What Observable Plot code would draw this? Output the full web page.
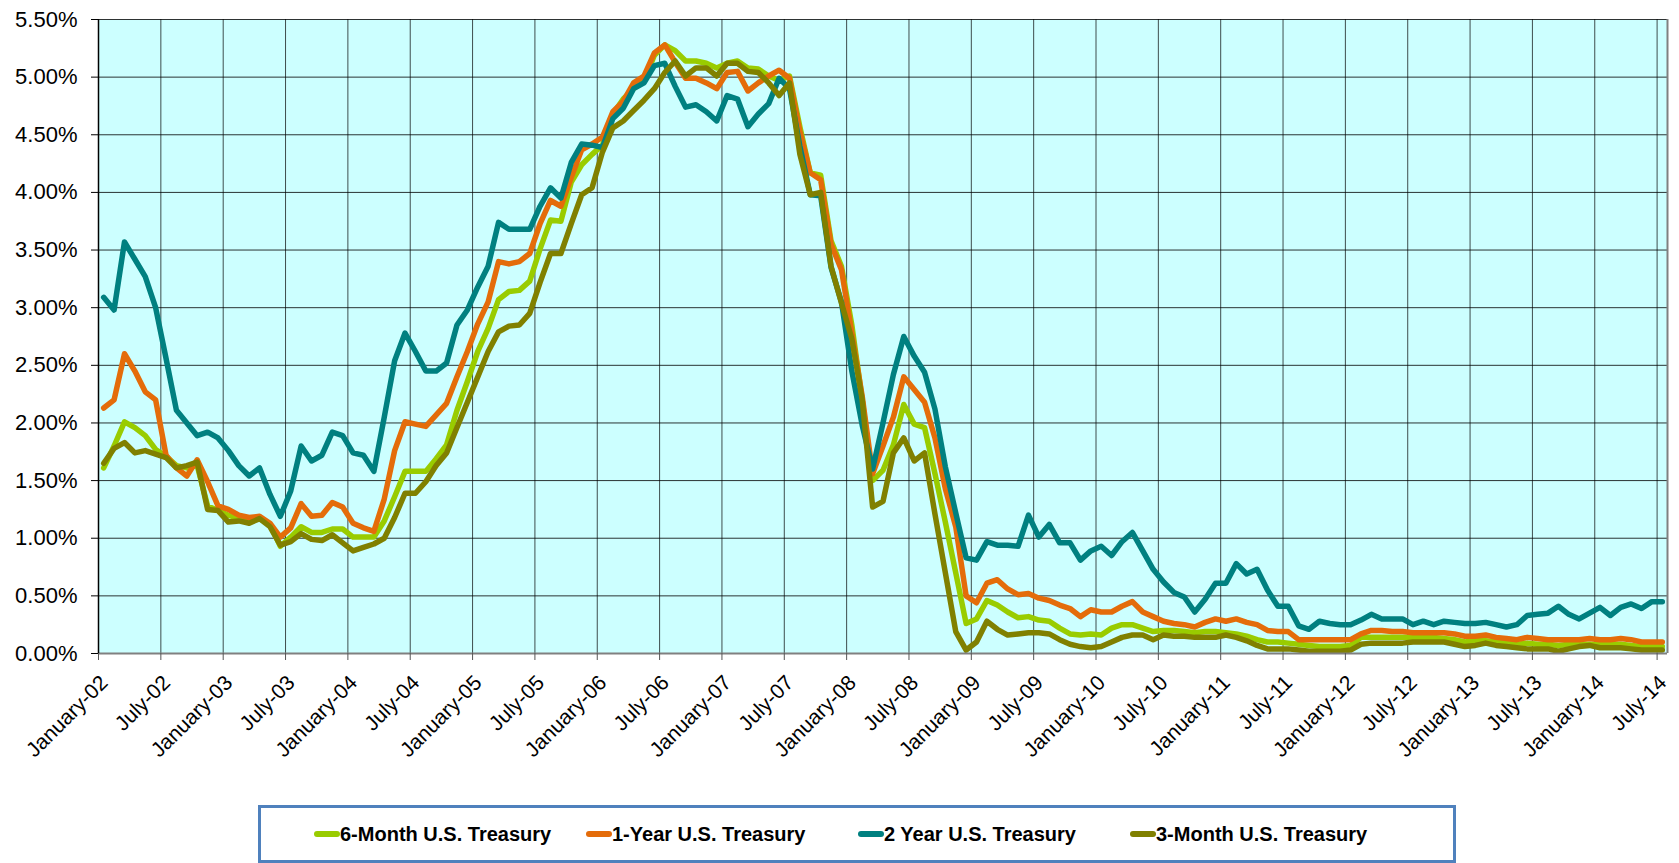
<!DOCTYPE html>
<html><head><meta charset="utf-8">
<script src="https://cdn.jsdelivr.net/npm/d3@7"></script>
<script src="https://cdn.jsdelivr.net/npm/@observablehq/plot@0.6"></script>
<style>
body{margin:0;background:#fff;font-family:"Liberation Sans",Arial,sans-serif;}
#wrap{position:relative;width:1679px;height:863px;overflow:hidden;}
#legend{position:absolute;left:258px;top:805px;width:1198px;height:58px;box-sizing:border-box;border:3px solid #4F81BD;display:flex;align-items:center;padding-left:53px;}
.item{width:272px;display:flex;align-items:center;font-weight:bold;font-size:20px;color:#000;white-space:nowrap;}
.sw{display:inline-block;width:26px;height:6px;border-radius:3px;}
</style></head><body><div id="wrap"><div id="chart"></div><div id="legend"></div></div>
<script>
// Monthly data, January 2002 .. July 2014 (151 months), in percent
const seriesNames = ["6-Month U.S. Treasury", "1-Year U.S. Treasury", "2 Year U.S. Treasury", "3-Month U.S. Treasury"];
const seriesColors = ["#99CC00", "#E46C0A", "#008080", "#808000"];

const sixMonth = [
1.61,1.80,2.01,1.96,1.89,1.77,1.71,1.63,1.61,1.63,1.28,1.24,
1.20,1.17,1.16,1.17,1.12,0.93,1.01,1.10,1.05,1.05,1.08,1.08,
1.01,1.01,1.01,1.15,1.36,1.58,1.58,1.58,1.69,1.81,2.11,2.36,
2.62,2.82,3.07,3.14,3.15,3.23,3.51,3.76,3.75,4.09,4.24,4.33,
4.41,4.68,4.81,4.90,4.97,5.19,5.28,5.23,5.14,5.14,5.12,5.08,
5.12,5.14,5.08,5.07,5.01,4.97,5.01,4.57,4.17,4.15,3.58,3.36,
2.85,2.20,1.50,1.59,1.81,2.16,1.99,1.96,1.56,1.14,0.70,0.26,
0.30,0.46,0.42,0.36,0.31,0.32,0.29,0.28,0.22,0.17,0.16,0.17,
0.16,0.22,0.25,0.25,0.22,0.19,0.20,0.20,0.19,0.18,0.19,0.19,
0.18,0.17,0.15,0.12,0.10,0.10,0.09,0.08,0.07,0.06,0.06,0.06,
0.07,0.14,0.14,0.14,0.14,0.14,0.14,0.14,0.14,0.13,0.12,0.10,
0.11,0.11,0.10,0.09,0.08,0.09,0.08,0.08,0.07,0.08,0.08,0.08,
0.08,0.08,0.08,0.07,0.06,0.06,0.06];

const oneYear = [
2.13,2.20,2.60,2.45,2.27,2.20,1.72,1.61,1.54,1.68,1.49,1.28,
1.25,1.20,1.18,1.19,1.13,1.01,1.09,1.30,1.19,1.20,1.31,1.27,
1.13,1.09,1.06,1.34,1.76,2.01,1.99,1.97,2.07,2.17,2.40,2.62,
2.86,3.05,3.40,3.38,3.40,3.47,3.73,3.93,3.88,4.13,4.37,4.42,
4.48,4.70,4.79,4.95,5.01,5.21,5.28,5.13,4.99,4.99,4.95,4.90,
5.04,5.05,4.88,4.95,5.01,5.06,4.99,4.53,4.17,4.11,3.55,3.33,
2.78,2.23,1.56,1.80,2.05,2.40,2.29,2.18,1.87,1.43,1.10,0.50,
0.44,0.61,0.64,0.56,0.51,0.52,0.48,0.46,0.42,0.39,0.32,0.38,
0.36,0.36,0.41,0.45,0.36,0.32,0.28,0.26,0.25,0.23,0.27,0.30,
0.28,0.30,0.27,0.25,0.20,0.19,0.19,0.12,0.12,0.12,0.12,0.12,
0.12,0.17,0.20,0.20,0.19,0.19,0.18,0.18,0.18,0.18,0.17,0.15,
0.15,0.16,0.14,0.13,0.12,0.14,0.13,0.12,0.12,0.12,0.12,0.13,
0.12,0.12,0.13,0.12,0.10,0.10,0.10];

const twoYear = [
3.09,2.98,3.57,3.42,3.27,3.00,2.56,2.11,2.00,1.89,1.92,1.87,
1.76,1.63,1.54,1.61,1.38,1.19,1.41,1.80,1.67,1.72,1.92,1.89,
1.74,1.72,1.58,2.05,2.54,2.78,2.62,2.45,2.45,2.52,2.85,2.98,
3.18,3.36,3.74,3.68,3.68,3.68,3.88,4.04,3.95,4.26,4.42,4.41,
4.39,4.64,4.73,4.90,4.95,5.10,5.12,4.92,4.74,4.76,4.70,4.62,
4.84,4.81,4.57,4.68,4.77,4.99,4.90,4.40,3.98,3.97,3.35,3.05,
2.45,1.98,1.60,2.00,2.42,2.75,2.58,2.44,2.12,1.62,1.22,0.83,
0.81,0.97,0.94,0.94,0.93,1.20,1.01,1.12,0.96,0.96,0.81,0.89,
0.93,0.85,0.97,1.05,0.89,0.73,0.62,0.53,0.49,0.36,0.47,0.61,
0.61,0.78,0.69,0.73,0.55,0.41,0.41,0.24,0.21,0.28,0.26,0.25,
0.25,0.29,0.34,0.30,0.30,0.30,0.25,0.28,0.25,0.28,0.27,0.26,
0.26,0.27,0.25,0.23,0.25,0.33,0.34,0.35,0.41,0.34,0.30,0.35,
0.40,0.33,0.40,0.43,0.39,0.45,0.45];

const threeMonth = [
1.65,1.78,1.83,1.74,1.76,1.73,1.70,1.61,1.63,1.66,1.25,1.24,
1.14,1.15,1.13,1.17,1.10,0.94,0.97,1.04,0.99,0.98,1.03,0.96,
0.89,0.92,0.95,1.00,1.18,1.39,1.39,1.49,1.63,1.74,1.96,2.18,
2.40,2.62,2.79,2.84,2.85,2.95,3.22,3.47,3.47,3.73,3.98,4.04,
4.35,4.56,4.62,4.71,4.80,4.90,5.04,5.14,5.01,5.08,5.08,5.01,
5.12,5.12,5.05,5.04,4.95,4.84,4.95,4.33,3.98,4.00,3.36,3.04,
2.73,2.20,1.27,1.32,1.74,1.87,1.67,1.74,1.21,0.70,0.19,0.03,
0.10,0.28,0.21,0.16,0.17,0.18,0.18,0.17,0.12,0.08,0.06,0.05,
0.06,0.10,0.14,0.16,0.16,0.12,0.16,0.15,0.15,0.14,0.14,0.14,
0.16,0.14,0.11,0.07,0.04,0.04,0.04,0.03,0.02,0.02,0.02,0.02,
0.03,0.08,0.09,0.09,0.09,0.09,0.10,0.10,0.10,0.10,0.08,0.06,
0.07,0.09,0.07,0.06,0.05,0.04,0.04,0.04,0.02,0.04,0.06,0.07,
0.05,0.05,0.05,0.04,0.03,0.03,0.03];

const xTickLabels = ["January-02","July-02","January-03","July-03","January-04","July-04",
"January-05","July-05","January-06","July-06","January-07","July-07","January-08","July-08",
"January-09","July-09","January-10","July-10","January-11","July-11","January-12","July-12",
"January-13","July-13","January-14","July-14"];
const yTicks = [0,0.5,1,1.5,2,2.5,3,3.5,4,4.5,5,5.5];

// month index positions (tick at start of month, data point mid-month)
const xTicks = xTickLabels.map((_, k) => k * 6);
const allSeries = [sixMonth, oneYear, twoYear, threeMonth];
const rows = allSeries.map((vals, s) => vals.map((v, i) => ({x: i + 0.5, y: v, name: seriesNames[s]})));

const chart = Plot.plot({
  width: 1679, height: 800,
  marginLeft: 98, marginRight: 12, marginTop: 19, marginBottom: 147,
  style: {fontFamily: '"Liberation Sans", Arial, sans-serif', color: "#000", background: "transparent"},
  x: {domain: [0, 151], label: null},
  y: {domain: [0, 5.5], label: null},
  marks: [
    Plot.frame({fill: "#CCFFFF", stroke: null}),
    Plot.gridY(yTicks, {stroke: "#000", strokeOpacity: 0.8, strokeWidth: 1}),
    Plot.gridX(xTicks, {stroke: "#000", strokeOpacity: 0.7, strokeWidth: 1}),
    Plot.ruleX([151], {stroke: "#808080", strokeWidth: 2}),
    ...rows.map((r, s) => Plot.line(r, {x: "x", y: "y", stroke: seriesColors[s], strokeWidth: 5.5, strokeLinejoin: "round", strokeLinecap: "round"})),
    Plot.ruleY([0], {stroke: "#808080", strokeWidth: 2}),
    Plot.ruleX([0], {stroke: "#000", strokeWidth: 1.5}),
    Plot.axisY(yTicks, {label: null, tickSize: 7, tickPadding: 14, tickFormat: d => d.toFixed(2) + "%", fontSize: 22, stroke: "#000"}),
    Plot.axisX(xTicks, {label: null, tickSize: 7, tickPadding: 13, tickFormat: d => xTickLabels[d / 6], tickRotate: -45, textAnchor: "end", lineAnchor: "top", fontSize: 21, stroke: "#555"})
  ]
});
document.getElementById("chart").appendChild(chart);

const legend = document.getElementById("legend");
seriesNames.forEach((n, s) => {
  const it = document.createElement("div");
  it.className = "item";
  it.innerHTML = `<span class="sw" style="background:${seriesColors[s]}"></span><span>${n}</span>`;
  legend.appendChild(it);
});
</script></body></html>
